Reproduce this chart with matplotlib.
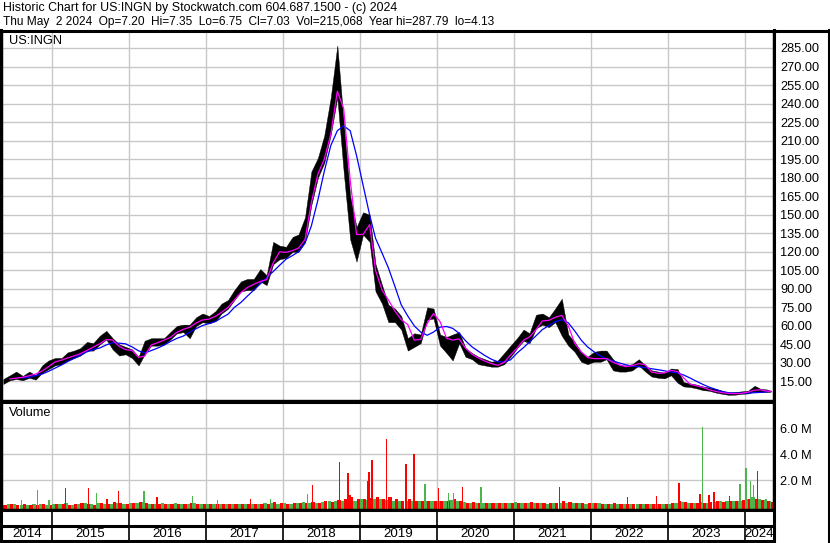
import matplotlib
matplotlib.use("Agg")
import matplotlib.pyplot as plt
from matplotlib.lines import Line2D
import numpy as np
import pandas as pd

W, H = 830, 543
FONT = "Liberation Sans"

# monthly samples, mid-month, May 2014 .. Apr 2024, then last session (May 2 2024)
months = list(pd.date_range("2014-05-01", periods=120, freq="MS") + pd.Timedelta(days=14))
months.append(pd.Timestamp("2024-05-02"))

# price band (low / high of the bars around each sample)
price_lo = [13, 16, 17, 16, 18, 16.5, 22, 25, 28, 29, 32, 34, 36, 40, 40, 45, 49, 41, 36, 37,
            34, 28, 37, 44, 44, 45, 49, 54, 55, 50, 60, 63, 62, 64, 70, 74, 81, 88, 89, 89,
            96, 93, 110, 114, 115, 120, 120, 128, 158, 180, 192, 215, 245, 185, 130, 112, 134, 128, 88, 78,
            63, 63, 57, 40, 43, 46, 65, 66, 44, 38, 32, 46, 35, 33, 29, 28, 27, 27, 29, 35,
            42, 48, 46, 58, 61, 59, 63, 52, 44, 39, 31, 29, 31, 31, 33, 24, 23, 23, 24, 28,
            23, 19, 18, 17.5, 20, 14, 11, 10.5, 9.5, 8, 7.5, 6, 5, 4.2, 4.3, 5, 5.3, 7, 6.5, 6.5,
            6.75]
price_hi = [17, 20, 23, 19.5, 23, 20, 28, 32, 34, 34, 38.5, 40, 42, 47, 46, 52, 56, 50, 45, 43,
            41, 35, 48, 50, 50, 50, 55, 60, 61, 61, 67, 70, 68, 72, 78, 81, 89, 96, 98, 98,
            106, 101, 128, 125, 124, 132, 134, 148, 185, 196, 214, 245, 287, 225, 165, 140, 152, 150, 110, 93,
            77, 74, 68, 50, 54, 53, 75, 74, 53, 51, 53, 55, 42, 38, 35, 33, 31, 32, 38, 44,
            50, 57, 54, 69, 70, 67, 74, 82, 53, 47, 39, 35, 39, 40, 40, 33, 28, 28, 29, 33,
            28, 24, 23, 22, 25.5, 25, 14.5, 13.5, 12.5, 11, 10, 9, 7.5, 6, 6.5, 7, 7.5, 11.5, 9, 8.5,
            7.35]

# short (magenta) and long (blue) moving averages
ma_short = [np.nan, 17, 17.7, 18.4, 19.7, 21, 23.5, 27, 30.8, 32.3, 34, 35.7, 37.5, 40.2, 42.8, 45.5, 49, 48.5, 43.4, 40.8,
            40.1, 34.5, 35.5, 44.5, 46.4, 48.4, 50.7, 54.8, 57.2, 58.9, 62.4, 64.8, 65.5, 67.8, 71, 75, 81, 87, 91, 93.7,
            96, 97.5, 111, 120, 119.5, 121, 123, 130, 160, 183, 195, 215, 250, 236, 178, 134, 134, 142, 105, 89,
            81, 72, 65, 61, 48.5, 49, 62, 70, 63.5, 50, 48.5, 49.5, 42, 37, 34, 31.5, 29.5, 28, 30.5, 36.5,
            42, 48.5, 51, 57, 64, 64.5, 67, 68.5, 60, 46, 39, 34.5, 33.5, 33.5, 33.5, 30.5, 28.5, 27, 27.8, 29.4,
            28.5, 22.6, 21.6, 22, 24, 23, 18, 12.8, 11.5, 10.2, 8.3, 6.9, 5.9, 5.3, 5.1, 5.4, 6.3, 8, 8.2, 7.1,
            7]
ma_long = [np.nan, np.nan, np.nan, 17.8, 18.5, 19.8, 21, 23.2, 25.8, 28.4, 31.1, 33.7, 36.3, 39, 40.8, 42.1, 44.6, 46.4, 46, 45.5,
           43, 39.8, 38.1, 40, 42, 44.4, 47.3, 49.9, 51.8, 55, 57.8, 60.3, 61.9, 63.6, 66.5, 69.5, 75, 79, 84, 89,
           94, 99, 104, 109, 114, 117, 120, 127, 141, 162, 185, 206, 218, 222, 218, 198, 174, 150, 131, 119,
           107, 92, 77, 68, 60, 55, 52.4, 55, 59, 59.5, 58, 54, 48, 43, 39.5, 36, 33, 31, 30.8, 32.5,
           38, 42.5, 47, 52, 57, 60.3, 63.5, 65, 62.5, 56, 48.5, 43, 39, 35.5, 33.3, 31.6, 30, 28.5, 27.4, 26.9,
           26.2, 25.3, 24.5, 23.6, 22.7, 21.8, 20.3, 17.8, 15.2, 12.6, 10.4, 8.6, 6.8, 5.9, 5.5, 5.5, 5.6, 5.9, 6.2, 6.6,
           6.9]

# volume (millions): typical up-day and down-day bars per month
vol_up = [0.14, 0.20, 0.16, 0.14, 0.12, 0.16, 0.20, 0.14,
          0.20, 0.16, 0.24, 0.14, 0.16, 0.26, 0.20, 0.24, 0.16, 0.20, 0.26, 0.16,
          0.24, 0.26, 0.32, 0.20, 0.16, 0.24, 0.20, 0.26, 0.22, 0.18, 0.26, 0.20,
          0.20, 0.16, 0.18, 0.16, 0.20, 0.17, 0.22, 0.16, 0.18, 0.24, 0.26, 0.20,
          0.24, 0.20, 0.28, 0.32, 0.26, 0.28, 0.32, 0.38, 0.45, 0.38, 0.50, 0.45,
          0.55, 0.50, 0.60, 0.55, 0.50, 0.45, 0.38, 0.45, 0.38, 0.38, 0.45, 0.38,
          0.38, 0.45, 0.50, 0.38, 0.32, 0.26, 0.26, 0.28, 0.24, 0.26, 0.24, 0.26,
          0.32, 0.28, 0.26, 0.24, 0.26, 0.20, 0.24, 0.26, 0.28, 0.24, 0.26, 0.20,
          0.26, 0.24, 0.20, 0.16, 0.20, 0.18, 0.16, 0.20, 0.18, 0.17, 0.20, 0.16,
          0.20, 0.26, 0.32, 0.26, 0.28, 0.32, 0.26, 0.32, 0.38, 0.45, 0.38, 0.45,
          0.60, 0.70, 0.55, 0.50, 0.38]
vol_dn = [0.11, 0.16, 0.14, 0.20, 0.14, 0.11, 0.16, 0.14,
          0.16, 0.20, 0.14, 0.18, 0.24, 0.16, 0.14, 0.26, 0.20, 0.32, 0.24, 0.20,
          0.26, 0.32, 0.24, 0.16, 0.20, 0.16, 0.21, 0.18, 0.16, 0.24, 0.20, 0.16,
          0.16, 0.18, 0.16, 0.20, 0.16, 0.18, 0.16, 0.20, 0.17, 0.21, 0.32, 0.24,
          0.20, 0.24, 0.26, 0.28, 0.32, 0.26, 0.38, 0.36, 0.50, 0.55, 0.70, 0.60,
          0.60, 0.65, 0.70, 0.60, 0.70, 0.55, 0.45, 0.55, 0.38, 0.45, 0.38, 0.38,
          0.45, 0.38, 0.55, 0.38, 0.28, 0.32, 0.26, 0.26, 0.28, 0.24, 0.26, 0.24,
          0.28, 0.26, 0.32, 0.26, 0.24, 0.26, 0.28, 0.38, 0.32, 0.28, 0.26, 0.24,
          0.24, 0.20, 0.20, 0.26, 0.21, 0.16, 0.20, 0.18, 0.16, 0.21, 0.18, 0.20,
          0.24, 0.38, 0.32, 0.28, 0.26, 0.28, 0.32, 0.38, 0.32, 0.38, 0.45, 0.50,
          0.55, 0.60, 0.50, 0.45, 0.32]

# single-session volume spikes
spike_day = ["2014-08-09", "2014-10-24", "2014-12-17", "2015-03-06", "2015-06-23", "2015-07-31",
             "2015-09-18", "2015-11-12", "2016-03-11", "2016-05-12", "2016-10-28", "2017-02-24",
             "2017-07-31", "2017-11-03", "2018-04-27", "2018-05-21", "2018-09-26", "2018-11-05",
             "2018-11-14", "2019-02-06", "2019-02-12", "2019-02-26", "2019-05-07", "2019-08-06",
             "2019-09-13", "2019-11-04", "2020-01-08", "2020-02-25", "2020-03-20", "2020-05-01",
             "2020-07-27", "2021-08-05", "2022-06-23", "2022-11-08", "2023-02-21", "2023-06-01",
             "2023-06-14", "2023-07-13", "2023-08-07", "2023-10-18", "2023-12-07", "2024-01-05",
             "2024-01-26", "2024-02-09", "2024-02-28", "2024-04-09"]
spike_vol = [0.5, 1.26, 0.5, 1.4, 1.4, 1.0, 0.6, 1.2, 1.2, 0.7, 0.8, 0.5,
             0.6, 0.56, 0.92, 1.64, 3.44, 2.56, 0.87, 1.97, 2.67, 3.56, 5.18, 3.26,
             4.03, 1.7, 1.4, 1.0, 1.0, 1.46, 1.46, 1.46, 0.7, 0.77, 1.77, 0.92,
             6.08, 0.85, 1.08, 0.8, 1.7, 2.92, 1.95, 1.64, 2.72, 0.6]
spike_up = "gggrrgrrgrggrggrrrrrrrrrrgrggrgrrrrrgrrrggggrg"

price_ticks = list(range(15, 286, 15))
vol_ticks = [2, 4, 6]
years = list(range(2014, 2025))

header1 = "Historic Chart for US:INGN by Stockwatch.com 604.687.1500 - (c) 2024"
header2 = ("Thu May  2 2024  Op=7.20  Hi=7.35  Lo=6.75  Cl=7.03  Vol=215,068  "
           "Year hi=287.79  lo=4.13")

GRID = "#c8c8c8"
UP, DN = "#4cb44c", "#ff0000"


def fyear(d):
    d = pd.Timestamp(d)
    n = 366 if d.is_leap_year else 365
    return d.year + (d.dayofyear - 0.5) / n


def fx(px):
    return px / W


def fy(py):
    return 1 - py / H


t = np.array([fyear(d) for d in months])
t_spk = np.array([fyear(d) for d in spike_day])
x0, x1 = 2014.3506, 2024.3636

plt.rcParams["font.family"] = [FONT, "DejaVu Sans"]
fig = plt.figure(figsize=(W / 100, H / 100), dpi=100)
fig.patch.set_facecolor("white")

# --- price panel
ax = fig.add_axes([fx(2), fy(400), fx(773) - fx(2), (400 - 30.7) / H])
ax.set_xlim(x0, x1)
ax.set_ylim(0, 299)
ax.set_yticks(price_ticks)
ax.set_yticklabels([f"{v:.2f}" for v in price_ticks])
ax.yaxis.tick_right()
ax.tick_params(axis="y", length=0, pad=5, labelsize=9.2)
ax.set_xticks(years[1:])
ax.tick_params(axis="x", length=0, labelbottom=False)
ax.grid(True, color=GRID, lw=1)
ax.set_axisbelow(True)
for s in ax.spines.values():
    s.set_linewidth(1)

ax.fill_between(t, price_lo, price_hi, color="black", lw=0.3)
ax.plot(t, ma_long, color="#0000ff", lw=0.9)
ax.plot(t, ma_short, color="#ff00ff", lw=0.9)
ax.text(0.009, 0.973, "US:INGN", transform=ax.transAxes, fontsize=9.2, va="center")

# --- volume panel
ylo = -0.2
av = fig.add_axes([fx(2), fy(509), fx(773) - fx(2), (509 - 402.3) / H])
av.set_xlim(x0, x1)
av.set_ylim(ylo, 8.0)
av.set_yticks(vol_ticks)
av.set_yticklabels([f"{v:.1f} M" for v in vol_ticks])
av.yaxis.tick_right()
av.tick_params(axis="y", length=0, pad=5, labelsize=9.2)
av.set_xticks(years[1:])
av.tick_params(axis="x", length=0, labelbottom=False)
av.grid(True, color=GRID, lw=1)
av.set_axisbelow(True)
m = 1 / 12
av.bar(t - m / 4, np.array(vol_up) - ylo, bottom=ylo, width=m * 0.5, color=UP, lw=0)
av.bar(t + m / 4, np.array(vol_dn) - ylo, bottom=ylo, width=m * 0.5, color=DN, lw=0)
av.bar(t_spk, np.array(spike_vol) - ylo, bottom=ylo, width=0.018,
       color=[UP if c == "g" else DN for c in spike_up], lw=0)
av.text(0.009, 0.9, "Volume", transform=av.transAxes, fontsize=9.2, va="center")
for s in av.spines.values():
    s.set_linewidth(1)
av.spines["top"].set_linewidth(2.2)

# --- date strip
ad = fig.add_axes([fx(2), fy(541), fx(773) - fx(2), (541 - 510) / H])
ad.set_xlim(x0, x1)
ad.set_ylim(0, 1)
ad.axis("off")
for y in years[1:]:
    ad.axvline(y, color="black", lw=1.2)
ad.axhline(0.49, color="black", lw=2.2)
for y in years:
    a, b = max(y, x0), min(y + 1, x1)
    ad.text((a + b) / 2, 0.22, str(y), ha="center", va="center", fontsize=9.6)


# --- frame lines in pixel space
def hline(py, xa, xb, lw=2.2):
    fig.add_artist(Line2D([fx(xa), fx(xb)], [fy(py), fy(py)], color="black", lw=lw))


def vline(px, ya, yb, lw=2.2):
    fig.add_artist(Line2D([fx(px), fx(px)], [fy(ya), fy(yb)], color="black", lw=lw))


hline(30.7, 0, W)
hline(510, 0, 773)
hline(541, 0, 773)
vline(1, 30, H)
vline(773.5, 30, 542)
vline(828.5, 30, H)

fig.text(fx(3), fy(8), header1, fontsize=8.95, va="center")
fig.text(fx(3), fy(22), header2, fontsize=8.55, va="center")

fig.savefig("out.png", dpi=100)
